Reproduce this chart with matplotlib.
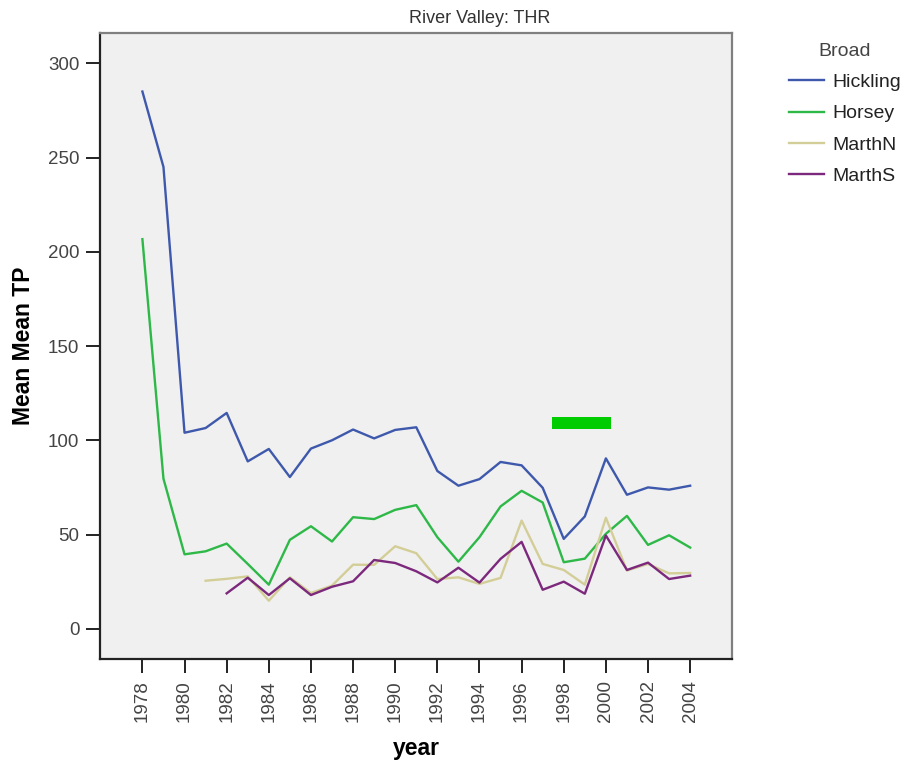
import numpy as np
import matplotlib.pyplot as plt
from matplotlib.patches import Rectangle

plt.rcParams['font.family'] = ['Liberation Sans', 'DejaVu Sans']

years = np.arange(1978, 2005)

hickling = [285, 245, 104, 106.5, 114.5, 88.8, 95.4, 80.5, 95.6, 100, 105.7, 101, 105.5, 106.9,
            83.7, 75.9, 79.4, 88.5, 86.7, 74.8, 47.7, 59.6, 90.4, 71.1, 75, 73.8, 75.9]
horsey = [206.7, 79.6, 39.5, 41.1, 45.2, 34.4, 23.4, 47.2, 54.4, 46.3, 59.2, 58.2, 63.1, 65.6,
          48.6, 35.6, 48.6, 64.9, 73.2, 67, 35.3, 37.2, 50.4, 59.9, 44.5, 49.6, 43.1]
marth_n = [np.nan, np.nan, np.nan, 25.5, 26.5, 27.8, 14.9, 27.3, 19, 22.9, 34, 33.9, 43.8, 40.1,
           26.4, 27.3, 23.8, 27, 57.4, 34.4, 31.2, 23.4, 58.9, 30.9, 34.4, 29.4, 29.6]
marth_s = [np.nan, np.nan, np.nan, np.nan, 18.8, 27.1, 17.9, 26.8, 17.9, 22.3, 25.2, 36.5, 34.9, 30.5,
           24.6, 32.4, 24.5, 37.1, 46.1, 20.7, 25, 18.6, 49.5, 31.2, 35.1, 26.4, 28.2]

series = [('Hickling', hickling, '#3E58AC'),
          ('Horsey', horsey, '#2EB848'),
          ('MarthN', marth_n, '#D3CE97'),
          ('MarthS', marth_s, '#7C287D')]

# stray marker block inside the plot area
block_x = (1997.45, 2000.24)
block_y = (105.9, 112.2)

fig = plt.figure(figsize=(9.09, 7.61), dpi=100)
ax = fig.add_axes([0.1103, 0.1336, 0.6953, 0.8234])
ax.set_facecolor('#F0F0F0')

for name, vals, col in series:
    ax.plot(years, vals, color=col, lw=1.7, label=name)

ax.add_patch(Rectangle((block_x[0], block_y[0]), block_x[1] - block_x[0], block_y[1] - block_y[0],
                       facecolor='#00CC00', edgecolor='none', zorder=5))

ax.set_xlim(1976.0, 2006.0)
ax.set_ylim(-16.2, 316.2)
ax.set_xticks(years[::2])
ax.set_xticklabels([str(y) for y in years[::2]], rotation=90)
ax.set_yticks([0, 50, 100, 150, 200, 250, 300])

ax.tick_params(axis='both', direction='out', length=10, width=1.4, colors='#222222',
               labelsize=13.5, labelcolor='#444444', pad=5)

for side in ['left', 'bottom']:
    ax.spines[side].set_color('#222222')
    ax.spines[side].set_linewidth(1.6)
for side in ['top', 'right']:
    ax.spines[side].set_color('#808080')
    ax.spines[side].set_linewidth(1.6)

ax.set_xlabel('year', fontsize=16.5, fontweight='bold', labelpad=11)
ax.set_ylabel('Mean Mean TP', fontsize=16.5, fontweight='bold', labelpad=9)

fig.text(0.528, 0.976, 'River Valley: THR', ha='center', va='center', fontsize=13, color='#333333')

leg = fig.legend(loc='upper left', bbox_to_anchor=(0.849, 0.967), frameon=False,
                 title='Broad', fontsize=14, title_fontsize=14,
                 handlelength=1.8, handletextpad=0.4, labelspacing=0.71)
for t in leg.get_texts():
    t.set_color('#222222')
leg.get_title().set_color('#444444')

fig.savefig('out.png', dpi=100)
